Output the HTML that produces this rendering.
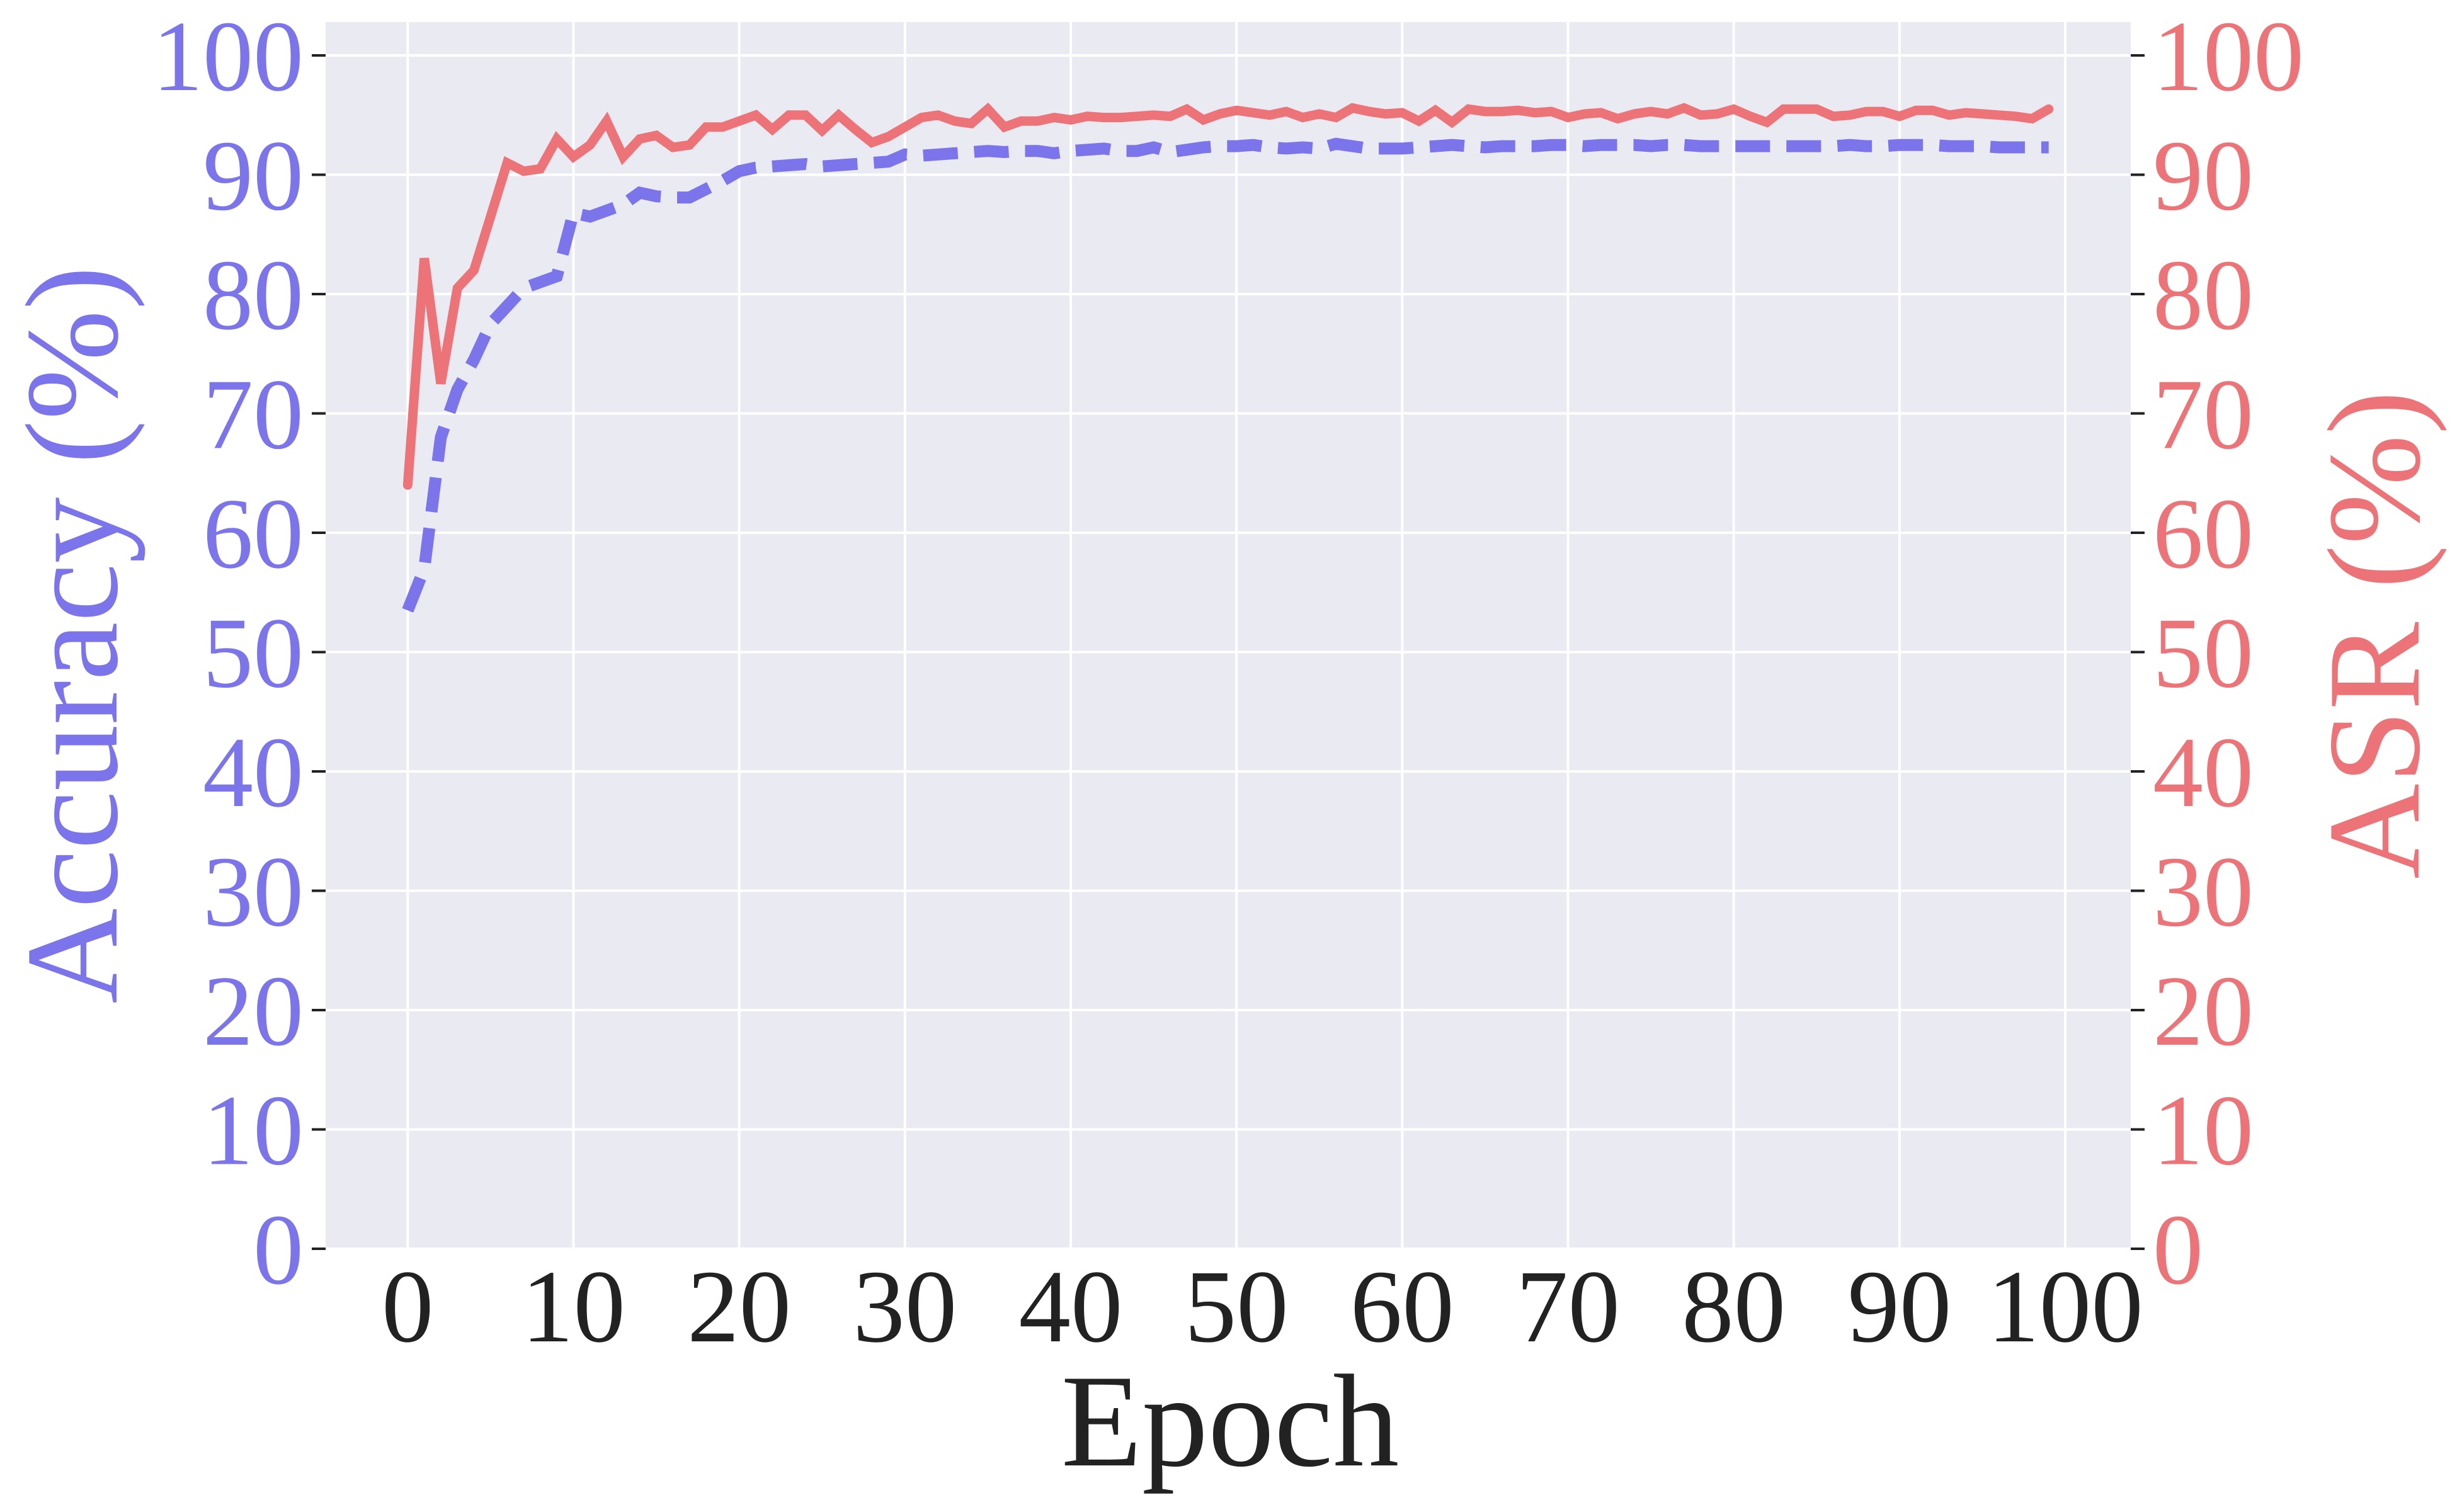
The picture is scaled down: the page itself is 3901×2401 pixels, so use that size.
<!DOCTYPE html>
<html><head><meta charset="utf-8"><style>
html,body{margin:0;padding:0;background:#fff;}
svg, svg text{font-family:"Liberation Serif","Times New Roman",serif;}
svg{display:block;}
</style></head><body>
<svg id="chart" width="3901" height="2401" viewBox="0 0 3901 2401" xmlns="http://www.w3.org/2000/svg" font-family="Liberation Serif, serif">
<rect x="0" y="0" width="3901" height="2401" fill="#fff"/>
<rect id="plot" x="517" y="35" width="2866" height="1948" fill="#EAEAF2"/>
<g id="grid"></g>
<g id="series"></g>
<g id="axes"></g>
<text x="1953" y="2327" font-size="210" text-anchor="middle" fill="#222" font-family="Liberation Serif, serif">Epoch</text>
<text transform="translate(185,1008) rotate(-90)" font-size="210" text-anchor="middle" fill="#7B74EA" font-family="Liberation Serif, serif">Accuracy (%)</text>
<text transform="translate(3840,1008) rotate(-90)" font-size="210" text-anchor="middle" fill="#EC7479" font-family="Liberation Serif, serif">ASR (%)</text>
</svg>
<script>
const epochs = Array.from({length:100},(_, i)=>i);
const accuracy = [53.5,57,68,72,74.5,77.5,79,80.5,81,81.5,86.8,86.5,87,87.5,88.5,88.2,88.1,88.1,88.8,89.5,
90.3,90.6,90.7,90.8,90.9,90.7,90.8,90.9,91,91.1,91.7,91.6,91.7,91.8,91.9,92,91.9,92,92,91.8,
92,92.1,92.2,92,92,92.3,91.9,92.1,92.3,92.4,92.4,92.5,92.3,92.2,92.3,92.2,92.6,92.4,92.2,92.2,
92.2,92.3,92.4,92.5,92.4,92.3,92.4,92.4,92.4,92.5,92.5,92.4,92.5,92.5,92.5,92.4,92.5,92.5,92.4,92.4,
92.4,92.4,92.4,92.4,92.4,92.4,92.4,92.5,92.4,92.4,92.5,92.5,92.5,92.4,92.4,92.4,92.3,92.3,92.3,92.3];
const asr = [64,83,72.5,80.5,82,86.5,91,90.3,90.5,93,91.5,92.5,94.5,91.5,93,93.3,92.3,92.5,94,94,
94.5,95,93.8,95,95,93.7,95,93.8,92.7,93.2,94,94.8,95,94.5,94.3,95.5,94,94.5,94.5,94.8,
94.6,94.9,94.8,94.8,94.9,95,94.9,95.5,94.6,95.1,95.4,95.2,95,95.3,94.8,95.1,94.8,95.6,95.3,95.1,
95.2,94.5,95.4,94.4,95.5,95.3,95.3,95.4,95.2,95.3,94.8,95.1,95.2,94.7,95.1,95.3,95.1,95.6,95,95.1,
95.5,94.9,94.4,95.5,95.5,95.5,94.9,95,95.3,95.3,94.9,95.4,95.4,95,95.2,95.1,95,94.9,94.7,95.5];
const yTicks = [0,10,20,30,40,50,60,70,80,90,100];
const xTicks = [0,10,20,30,40,50,60,70,80,90,100];
const X0=517,X1=3383,Y0=35,Y1=1983;
const xMin=-4.95,xMax=103.95,yMin=0,yMax=102.8;
function xs(v){return X0+(v-xMin)/(xMax-xMin)*(X1-X0);}
function ys(v){return Y1-(v-yMin)/(yMax-yMin)*(Y1-Y0);}
const NS="http://www.w3.org/2000/svg";
function mk(tag,attrs,parent){const e=document.createElementNS(NS,tag);for(const k in attrs)e.setAttribute(k,attrs[k]);parent.appendChild(e);return e;}
const grid=document.getElementById('grid'),axes=document.getElementById('axes'),series=document.getElementById('series');
const FF='Liberation Serif, serif';
xTicks.forEach(t=>{
 const l=mk('line',{x1:xs(t),x2:xs(t),y1:Y0,y2:Y1,stroke:'#fff','stroke-width':4},grid);
 
 
 const tx=mk('text',{x:xs(t),y:2130,'font-size':165,'text-anchor':'middle',fill:'#222','font-family':FF},axes);
 tx.textContent=t;
 
 
});
yTicks.forEach(t=>{
 const l=mk('line',{x1:X0,x2:X1,y1:ys(t),y2:ys(t),stroke:'#fff','stroke-width':4},grid);
 
 
 const tl=mk('line',{x1:X0-22,x2:X0,y1:ys(t),y2:ys(t),stroke:'#222','stroke-width':4},axes);
 
 
 const tr=mk('line',{x1:X1,x2:X1+22,y1:ys(t),y2:ys(t),stroke:'#222','stroke-width':4},axes);
 
 
 const a=mk('text',{x:X0-35,y:ys(t)+55,'font-size':160,'text-anchor':'end',fill:'#7B74EA','font-family':FF},axes);
 a.textContent=t;
 
 
 const b=mk('text',{x:X1+35,y:ys(t)+55,'font-size':160,'text-anchor':'start',fill:'#EC7479','font-family':FF},axes);
 b.textContent=t;
 
 
});
const accPts=epochs.map((e,i)=>xs(e).toFixed(1)+','+ys(accuracy[i]).toFixed(1)).join(' ');
const asrPts=epochs.map((e,i)=>xs(e).toFixed(1)+','+ys(asr[i]).toFixed(1)).join(' ');
const pa=mk('polyline',{points:accPts,fill:'none',stroke:'#7B74EA','stroke-width':19,'stroke-dasharray':'55,26','stroke-linejoin':'miter'},series);


const pr=mk('polyline',{points:asrPts,fill:'none',stroke:'#EC7479','stroke-width':15,'stroke-linejoin':'miter','stroke-linecap':'round'},series);


</script>
</body></html>
